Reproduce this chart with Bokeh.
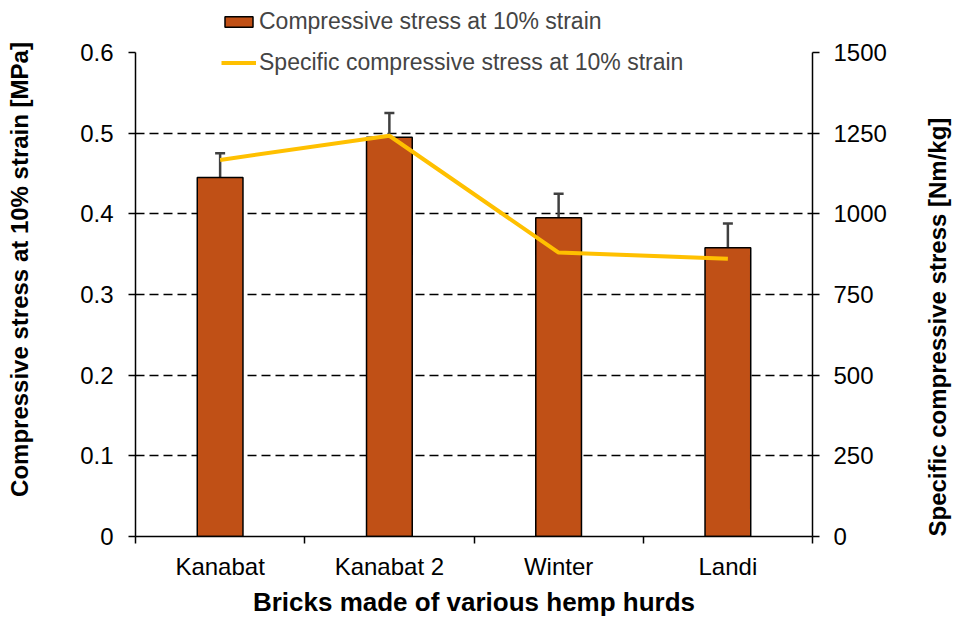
import math
from bokeh.plotting import figure
from bokeh.models import (ColumnDataSource, Range1d, LinearAxis, FixedTicker,
                          Whisker, TeeHead, Legend, LegendItem)
from bokeh.embed import file_html
from bokeh.resources import INLINE

categories = ["Kanabat", "Kanabat 2", "Winter", "Landi"]
stress = [0.445, 0.495, 0.395, 0.358]
stress_err = [0.030, 0.030, 0.030, 0.030]
specific = [1167, 1242, 880, 861]
left_ticks = [0, 0.1, 0.2, 0.3, 0.4, 0.5, 0.6]
right_ticks = [0, 250, 500, 750, 1000, 1250, 1500]

BAR = "#C05016"
GOLD = "#FFC000"
FONT = "Liberation Sans"

# layout (px): axes span 484 px; frame extends above so the legend fits inside it
AXIS_PX = 484
FRAME_H = 534
scale_top = FRAME_H / AXIS_PX

x = [i + 0.5 for i in range(len(categories))]
src = ColumnDataSource(dict(
    x=x, stress=stress,
    upper=[s + e for s, e in zip(stress, stress_err)],
    lower=[s - e for s, e in zip(stress, stress_err)],
    specific=specific))

left_max = left_ticks[-1]
right_max = right_ticks[-1]

p = figure(frame_width=677, frame_height=FRAME_H,
           x_range=Range1d(0, len(categories)),
           y_range=Range1d(0, left_max * scale_top),
           output_backend="svg", toolbar_location=None,
           min_border_left=135, min_border_top=2,
           min_border_right=10, min_border_bottom=10)
p.extra_y_ranges = {"right": Range1d(0, right_max * scale_top)}
p.outline_line_color = None
p.background_fill_color = "white"
p.border_fill_color = "white"

bars = p.vbar(x="x", top="stress", width=0.27, source=src,
              fill_color=BAR, line_color="black", line_width=1.5)
ln = p.line(x="x", y="specific", source=src, y_range_name="right",
            line_color=GOLD, line_width=4)

wh = Whisker(base="x", upper="upper", lower="lower", source=src,
             line_color="#404040", line_width=2.5,
             upper_head=TeeHead(size=10, line_color="#404040", line_width=2.5),
             lower_head=TeeHead(size=10, line_color="#404040", line_width=2.5))
p.add_layout(wh)

# grid
p.xgrid.visible = False
p.ygrid.ticker = FixedTicker(ticks=left_ticks[1:-1])
p.ygrid.grid_line_color = "black"
p.ygrid.grid_line_dash = "9 5"
p.ygrid.grid_line_width = 1.5

def style_axis(ax):
    ax.axis_line_color = "black"
    ax.axis_line_width = 1.5
    ax.major_tick_line_color = "black"
    ax.major_tick_line_width = 1.5
    ax.major_tick_in = 0
    ax.major_tick_out = 7
    ax.minor_tick_line_color = None
    ax.major_label_text_font = FONT
    ax.major_label_text_font_size = "24px"
    ax.major_label_text_color = "black"
    ax.axis_label_text_font = FONT
    ax.axis_label_text_font_style = "bold"
    ax.axis_label_text_font_size = "24px"
    ax.axis_label_text_color = "black"

# left axis
ly = p.yaxis[0]
style_axis(ly)
ly.ticker = FixedTicker(ticks=left_ticks)
ly.bounds = (0, left_max)
ly.major_label_overrides = {0: "0"}
ly.axis_label = "Compressive stress at 10% strain [MPa]"
ly.major_label_standoff = 15
ly.axis_label_standoff = 44

# right axis
ry = LinearAxis(y_range_name="right", ticker=FixedTicker(ticks=right_ticks))
style_axis(ry)
ry.bounds = (0, right_max)
ry.axis_label = "Specific compressive stress  [Nm/kg]"
ry.axis_label_orientation = math.pi / 2
ry.axis_label_align = "start"
ry.major_label_standoff = 14
ry.axis_label_standoff = 48
p.add_layout(ry, "right")

# bottom axis
bx = p.xaxis[0]
style_axis(bx)
bx.ticker = FixedTicker(ticks=x, minor_ticks=list(range(len(categories) + 1)))
bx.major_label_overrides = {xi: c for xi, c in zip(x, categories)}
bx.major_tick_line_color = None
bx.minor_tick_line_color = "black"
bx.minor_tick_line_width = 1.5
bx.minor_tick_in = 0
bx.minor_tick_out = 7
bx.major_label_standoff = 9
bx.axis_label = "Bricks made of various hemp hurds"
bx.axis_label_text_font_size = "26px"
bx.axis_label_standoff = 4

legend = Legend(items=[
    LegendItem(label="Compressive stress at 10% strain", renderers=[bars]),
    LegendItem(label="Specific compressive stress at 10% strain", renderers=[ln]),
], location=(86, 460), padding=0, margin=0, spacing=14,
    glyph_width=35, glyph_height=13, label_height=27, label_standoff=3,
    label_text_font=FONT, label_text_font_size="23px",
    border_line_color=None, background_fill_alpha=0)
p.add_layout(legend)

open("out.html", "w").write(file_html(p, INLINE))
